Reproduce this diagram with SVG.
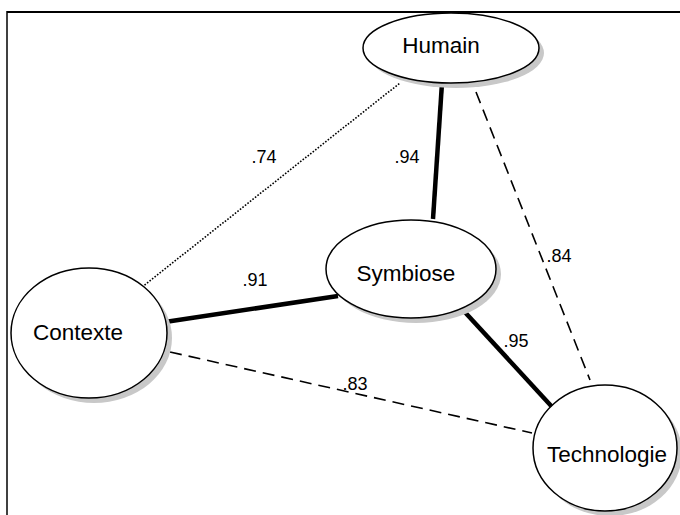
<svg xmlns="http://www.w3.org/2000/svg" width="680" height="515" viewBox="0 0 680 515">
<style>
.node{fill:#fff;stroke:#000;stroke-width:1.5}
.shadow{fill:#c8c8c8;stroke:none}
.lbl{font-family:"Liberation Sans",Arial,sans-serif;font-size:22.5px;fill:#000;text-anchor:middle}
.num{font-family:"Liberation Sans",Arial,sans-serif;font-size:18px;fill:#000;text-anchor:middle}
.thick{stroke:#000;stroke-width:4.5;fill:none}
.dash{stroke:#000;stroke-width:1.6;stroke-dasharray:12,7;fill:none}
.dot{stroke:#000;stroke-width:1.6;stroke-dasharray:1.6,1.6;fill:none}
</style>
<rect width="680" height="515" fill="#fff"/>
<g id="frame">
<line x1="7" y1="12" x2="680" y2="12" stroke="#000" stroke-width="2"/>
<line x1="7" y1="11" x2="7" y2="515" stroke="#000" stroke-width="1.5"/>
</g>
<g id="connectors">
<line class="dot" x1="142" y1="287" x2="400" y2="83"/>
<line class="dash" x1="476" y1="92" x2="590" y2="380"/>
<line class="dash" x1="170" y1="352" x2="532" y2="433"/>
<line class="thick" x1="442" y1="83" x2="433" y2="219"/>
<line class="thick" x1="165" y1="322" x2="338" y2="296"/>
<line class="thick" x1="462" y1="309" x2="554" y2="409"/>
</g>
<g id="labels">
<text class="num" x="264" y="163">.74</text>
<text class="num" x="407" y="163">.94</text>
<text class="num" x="559" y="262">.84</text>
<text class="num" x="255" y="286">.91</text>
<text class="num" x="516" y="347">.95</text>
<text class="num" x="355" y="390">.83</text>
</g>
<g id="humain">
<ellipse class="shadow" cx="456" cy="53" rx="88" ry="35"/>
<ellipse class="node" cx="451" cy="48" rx="88" ry="35"/>
<text class="lbl" x="441" y="53">Humain</text>
</g>
<g id="contexte">
<ellipse class="shadow" cx="94" cy="338" rx="78" ry="65"/>
<ellipse class="node" cx="89" cy="333" rx="78" ry="65"/>
<text class="lbl" x="78" y="340">Contexte</text>
</g>
<g id="symbiose">
<ellipse class="shadow" cx="416" cy="274" rx="85" ry="49"/>
<ellipse class="node" cx="411" cy="269" rx="85" ry="49"/>
<text class="lbl" x="406" y="281">Symbiose</text>
</g>
<g id="technologie">
<ellipse class="shadow" cx="610" cy="453" rx="72" ry="63"/>
<ellipse class="node" cx="605" cy="448" rx="72" ry="63"/>
<text class="lbl" x="607" y="462">Technologie</text>
</g>
</svg>
